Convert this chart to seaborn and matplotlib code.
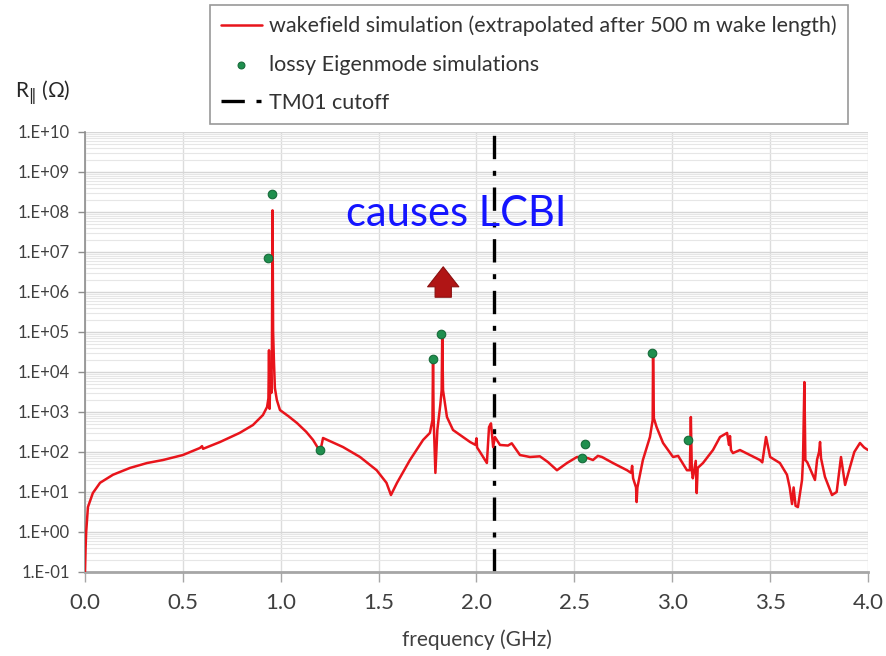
import numpy as np
import pandas as pd
import matplotlib
matplotlib.use("Agg")
import matplotlib.pyplot as plt
from matplotlib.ticker import FixedLocator, LogLocator, FuncFormatter, NullFormatter
import seaborn as sns

# ---------------- data ----------------
freq_ghz = [0.000, 0.003, 0.006, 0.015, 0.040, 0.077, 0.143, 0.230, 0.317, 0.398,
            0.500, 0.587, 0.598, 0.603, 0.690, 0.790, 0.858, 0.909, 0.930, 0.937,
            0.940, 0.943, 0.948, 0.952, 0.955, 0.958, 0.961, 0.965, 0.970, 0.980,
            0.996, 1.040, 1.083, 1.130, 1.165, 1.190, 1.203, 1.216, 1.318, 1.405,
            1.490, 1.540, 1.563, 1.594, 1.660, 1.727, 1.762, 1.775, 1.778, 1.781,
            1.790, 1.800, 1.815, 1.822, 1.825, 1.829, 1.849, 1.880, 1.916, 1.967,
            1.995, 2.000, 2.003, 2.018, 2.053, 2.064, 2.074, 2.085, 2.094, 2.120,
            2.161, 2.180, 2.222, 2.273, 2.324, 2.365, 2.411, 2.462, 2.513, 2.544,
            2.570, 2.595, 2.620, 2.641, 2.697, 2.769, 2.790, 2.795, 2.800, 2.815,
            2.818, 2.822, 2.850, 2.886, 2.900, 2.902, 2.906, 2.920, 2.953, 3.004,
            3.030, 3.075, 3.090, 3.095, 3.100, 3.105, 3.120, 3.125, 3.130, 3.157,
            3.208, 3.244, 3.280, 3.290, 3.295, 3.300, 3.310, 3.346, 3.397, 3.448,
            3.460, 3.479, 3.500, 3.550, 3.586, 3.600, 3.612, 3.620, 3.630, 3.642,
            3.663, 3.668, 3.675, 3.680, 3.690, 3.729, 3.740, 3.750, 3.755, 3.760,
            3.780, 3.816, 3.840, 3.862, 3.883, 3.908, 3.930, 3.959, 3.980, 4.000]
impedance_ohm = [0.1, 0.4, 1.0, 4.2, 9.4, 17, 27, 40, 53, 63,
                 84, 126, 140, 120, 178, 300, 473, 840, 1330, 2200,
                 3.5e4, 1200, 1.5e4, 3000, 4e4, 1.1e8, 1e5, 2e4, 4000, 2000,
                 1120, 780, 530, 320, 200, 126, 110, 224, 133, 75,
                 35, 17, 8.4, 17, 63, 200, 300, 630, 2.1e4, 700,
                 30, 355, 1500, 3500, 8.4e4, 3500, 750, 355, 266, 178,
                 150, 220, 130, 100, 53, 420, 520, 133, 237, 150,
                 145, 165, 84, 75, 78, 56, 35, 53, 75, 75,
                 70, 63, 80, 75, 53, 35, 30, 45, 22, 13,
                 5.6, 13, 63, 237, 630, 3e4, 700, 420, 168, 75,
                 80, 35, 35, 750, 35, 22, 60, 9.4, 40, 53,
                 112, 237, 300, 150, 250, 112, 94, 112, 84, 63,
                 55, 237, 75, 53, 27, 13, 5.0, 13, 4.5, 4.2,
                 20, 63, 5600, 63, 55, 20, 65, 100, 178, 70,
                 24, 8.4, 10, 75, 15, 42, 100, 168, 130, 112]

eig_freq_ghz = [0.955, 0.935, 1.200, 1.778, 1.820, 2.554, 2.539, 2.897, 3.080]
eig_impedance_ohm = [2.8e8, 7.0e6, 110, 2.1e4, 9.0e4, 160, 71, 3.0e4, 200]

tm01_cutoff_ghz = 2.089

x_ticks = [0.0, 0.5, 1.0, 1.5, 2.0, 2.5, 3.0, 3.5, 4.0]
y_decades = list(range(-1, 11))

legend_labels = ["wakefield simulation (extrapolated after 500 m wake length)",
                 "lossy Eigenmode simulations",
                 "TM01 cutoff"]

annotation_text = "causes LCBI"
annotation_freq, annotation_r = 1.895, 10 ** 7.95
arrow_freq = 1.83
arrow_from, arrow_to = 10 ** 5.8, 10 ** 6.7

# ---------------- style ----------------
sns.set_theme(style="white")
plt.rcParams["font.family"] = ["Lato", "DejaVu Sans"]

fig = plt.figure(figsize=(8.87, 6.56), dpi=100)
ax = fig.add_axes([85 / 887, 1 - 572 / 656, (868 - 85) / 887, (572 - 132) / 656])

wake = pd.DataFrame({"f": freq_ghz, "R": impedance_ohm})
eig = pd.DataFrame({"f": eig_freq_ghz, "R": eig_impedance_ohm})

ax.set_yscale("log")
ax.set_xlim(0, 4.0)
ax.set_ylim(1e-1, 1e10)

sns.lineplot(data=wake, x="f", y="R", ax=ax, color="#e8141b", lw=1.8,
             estimator=None, sort=False, label=legend_labels[0], zorder=3)
sns.scatterplot(data=eig, x="f", y="R", ax=ax, color="#1f8f4e", edgecolor="#176b3a",
                linewidth=0.8, s=38, label=legend_labels[1], zorder=4)
ax.axvline(tm01_cutoff_ghz, color="black", lw=2.4, linestyle=(0, (7, 3.5, 1.5, 3.5)),
           label=legend_labels[2], zorder=2)

# grid
ax.yaxis.set_major_locator(FixedLocator([10.0 ** d for d in y_decades]))
ax.yaxis.set_minor_locator(LogLocator(base=10, subs=np.arange(2, 10), numticks=100))
ax.yaxis.set_minor_formatter(NullFormatter())
ax.yaxis.set_major_formatter(FuncFormatter(lambda v, p: f"1.E{int(round(np.log10(v))):+03d}"))
ax.xaxis.set_major_locator(FixedLocator(x_ticks))
ax.xaxis.set_major_formatter(FuncFormatter(lambda v, p: f"{v:.1f}"))
ax.grid(True, which="major", axis="y", color="#d6d6d6", lw=1.0)
ax.grid(True, which="minor", axis="y", color="#e6e6e6", lw=0.8)
ax.grid(True, which="major", axis="x", color="#dcdcdc", lw=1.0)
ax.set_axisbelow(True)

for s in ["top", "right"]:
    ax.spines[s].set_visible(False)
ax.spines["left"].set_color("#8c8c8c")
ax.spines["left"].set_linewidth(1.2)
ax.spines["bottom"].set_color("#a6a6a6")
ax.spines["bottom"].set_linewidth(2.0)

ax.tick_params(axis="y", which="major", direction="out", length=5, width=1,
               color="#8c8c8c", labelsize=12, labelcolor="#404040", pad=6, left=True)
ax.tick_params(axis="y", which="minor", length=0)
ax.tick_params(axis="x", which="major", direction="out", length=7, width=1,
               color="#a6a6a6", labelsize=16, labelcolor="#404040", pad=8, bottom=True)

ax.set_xlabel("frequency (GHz)", fontsize=15, color="#404040", labelpad=12)
ax.set_ylabel("")
fig.text(15 / 887, 1 - 93 / 656, r"R$_{\|}$ (Ω)", fontsize=15, color="#262626",
         va="center", ha="left")

# annotation
ax.text(annotation_freq, annotation_r, annotation_text, color="#1414ff", fontsize=30,
        ha="center", va="center", zorder=5)
ax.annotate("", xy=(arrow_freq, arrow_to), xytext=(arrow_freq, arrow_from),
            arrowprops=dict(arrowstyle="simple,head_width=1.25,head_length=0.8,tail_width=0.65",
                            fc="#b01515", ec="#8a0f0f", lw=0.8, mutation_scale=18),
            zorder=5)

# legend
leg = ax.legend(loc="upper left", bbox_to_anchor=(210 / 887, 1 - 5 / 656),
                bbox_transform=fig.transFigure, frameon=True, fancybox=False,
                fontsize=15.5, handlelength=1.9, handletextpad=0.35, labelspacing=0.85,
                borderpad=0.5, borderaxespad=0, markerscale=0.8)
leg.get_frame().set_edgecolor("#7f7f7f")
leg.get_frame().set_linewidth(1.2)
for t in leg.get_texts():
    t.set_color("#333333")

fig.savefig("out.png", dpi=100)
